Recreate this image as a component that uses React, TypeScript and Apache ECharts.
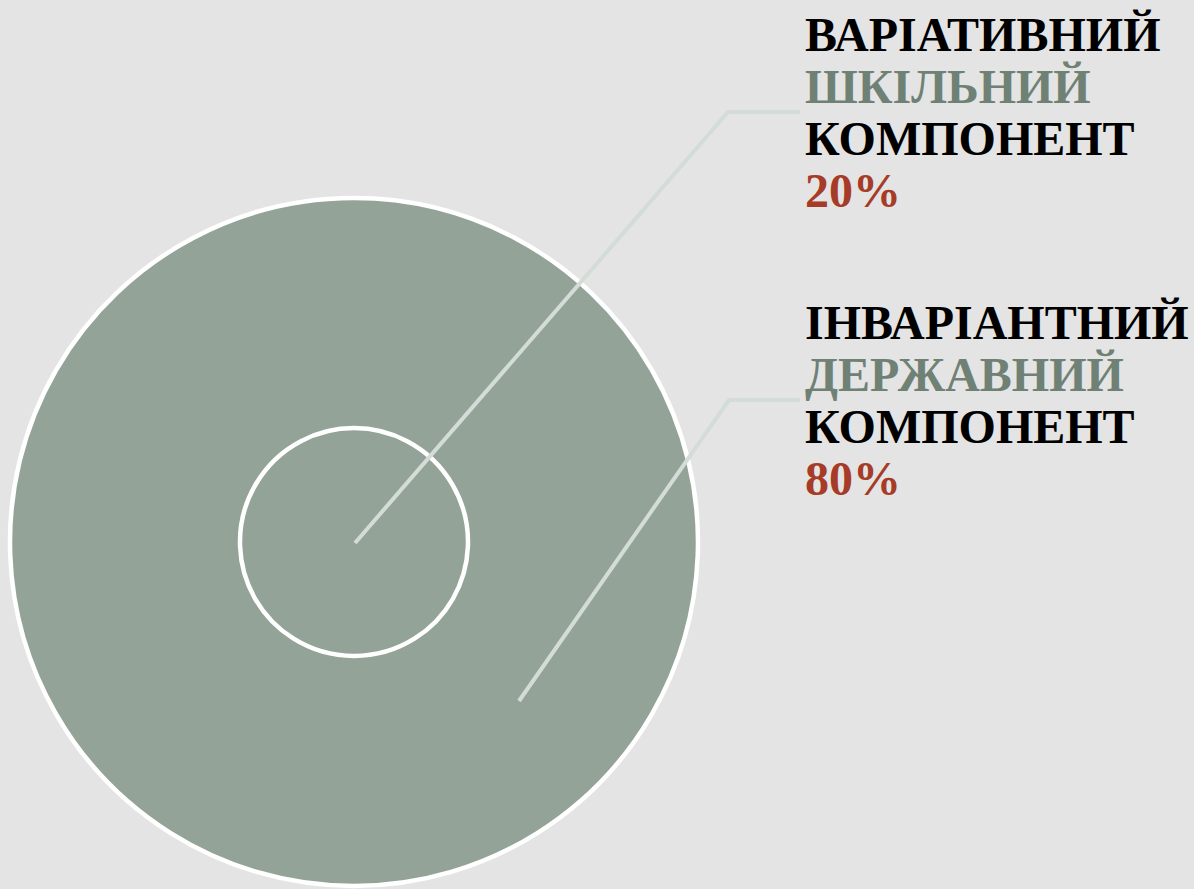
import React, { useEffect, useRef } from "react";
import * as echarts from "echarts";

const labelTop = ["ВАРІАТИВНИЙ", "ІНВАРІАНТНИЙ"];
const labelMid = ["ШКІЛЬНИЙ", "ДЕРЖАВНИЙ"];
const labelBottom = ["КОМПОНЕНТ", "КОМПОНЕНТ"];
const shares = [20, 80];

const FONT = "'Liberation Serif', 'Times New Roman', serif";

export default function App() {
  const ref = useRef<HTMLDivElement>(null);
  useEffect(() => {
    document.body.style.margin = "0";
    const chart = echarts.init(ref.current!, null, { renderer: "svg" });
    const blocks = [
      { x: 805, baseline: 50, leader: [[355, 543], [728, 112], [800, 112]] },
      { x: 805, baseline: 338, leader: [[519, 701], [729, 400], [800, 400]] },
    ];
    const colors = ["#000000", "#6f8174", "#000000", "#a63c28"];
    const texts: any[] = [];
    blocks.forEach((b, i) => {
      const lines = [labelTop[i], labelMid[i], labelBottom[i], shares[i] + "%"];
      lines.forEach((t, j) => {
        texts.push({
          type: "text",
          x: b.x,
          y: b.baseline + j * 52 - 16,
          style: {
            text: t,
            fill: colors[j],
            font: `bold 48px ${FONT}`,
            align: "left",
            verticalAlign: "middle",
          },
          z: 10,
        });
      });
      texts.push({
        type: "polyline",
        shape: { points: b.leader },
        style: { stroke: "#d3dcd6", lineWidth: 4, fill: "none" },
        z: 20,
      });
    });
    chart.setOption({
      animation: false,
      backgroundColor: "#e4e4e4",
      series: [
        {
          type: "pie",
          center: [354, 542],
          radius: [0, 344],
          silent: true,
          label: { show: false },
          labelLine: { show: false },
          itemStyle: { color: "#93a398", borderColor: "#ffffff", borderWidth: 4.5 },
          data: [{ name: labelTop[1], value: shares[1] }],
          z: 1,
        },
        {
          type: "pie",
          center: [354, 542],
          radius: [0, 114],
          silent: true,
          label: { show: false },
          labelLine: { show: false },
          itemStyle: { color: "#93a398", borderColor: "#ffffff", borderWidth: 4.5 },
          data: [{ name: labelTop[0], value: shares[0] }],
          z: 2,
        },
      ],
      graphic: texts,
    });
    return () => chart.dispose();
  }, []);
  return <div ref={ref} style={{ width: 1194, height: 889 }} />;
}
